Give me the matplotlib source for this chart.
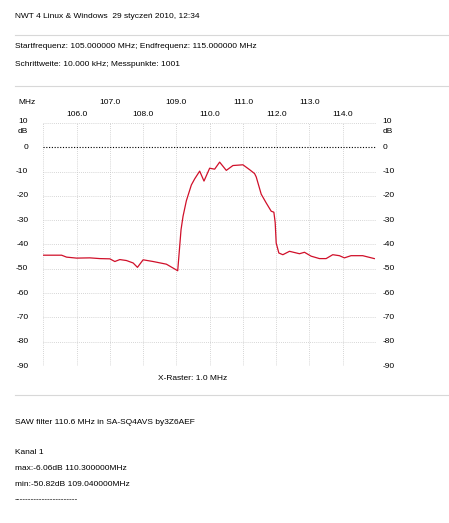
# saw_filter.py
# Wobbel-Messung eines SAW-Filters (NWT 4), nachgebaut mit matplotlib.

import matplotlib.pyplot as plt

plt.rcParams['font.family'] = ['Liberation Sans', 'DejaVu Sans']

W, H = 449, 523

# Messkurve, Frequenz in MHz, Pegel in dB
freq = [105.0, 105.55, 105.7, 106.0, 106.4, 106.7, 107.0, 107.15, 107.3, 107.5,
        107.7, 107.83, 108.0, 108.3, 108.7, 109.04, 109.14, 109.2, 109.3, 109.45,
        109.55, 109.7, 109.83, 110.0, 110.15, 110.3, 110.5, 110.7, 111.0, 111.2,
        111.35, 111.4, 111.55, 111.7, 111.85, 111.93, 111.97, 112.0, 112.08, 112.2,
        112.4, 112.7, 112.85, 113.05, 113.3, 113.5, 113.7, 113.9, 114.05, 114.25,
        114.6, 114.95]
pegel = [-44.4, -44.4, -45.2, -45.6, -45.5, -45.8, -45.9, -47.0, -46.2, -46.6,
         -47.6, -49.4, -46.3, -47.0, -48.1, -50.8, -33.9, -28.4, -22.0, -15.5,
         -13.0, -9.8, -13.9, -8.6, -9.0, -6.1, -9.5, -7.5, -7.2, -9.2,
         -10.8, -12.2, -19.3, -22.9, -26.3, -26.7, -31.0, -39.4, -43.5, -44.2,
         -42.8, -43.8, -43.2, -44.8, -45.8, -45.8, -44.2, -44.6, -45.5, -44.6,
         -44.6, -45.8]

x_ticks = [105, 106, 107, 108, 109, 110, 111, 112, 113, 114, 115]
y_ticks = [0, -10, -20, -30, -40, -50, -60, -70, -80, -90]

kopf = 'NWT 4 Linux & Windows  29 styczeń 2010, 12:34'
zeile1 = 'Startfrequenz: 105.000000 MHz; Endfrequenz: 115.000000 MHz'
zeile2 = 'Schrittweite: 10.000 kHz; Messpunkte: 1001'
fuss = ['SAW filter 110.6 MHz in SA-SQ4AVS by3Z6AEF', '', 'Kanal 1',
        'max:-6.06dB 110.300000MHz', 'min:-50.82dB 109.040000MHz',
        '-----------------------']

fs = 6

fig = plt.figure(figsize=(W / 100, H / 100), dpi=100)


def fx(px):
    return px / W


def fy(py):
    return 1 - py / H


# Kopfbereich
fig.text(fx(15), fy(17), kopf, fontsize=fs, va='center')
fig.add_artist(plt.Line2D([fx(15), 1], [fy(35), fy(35)], color='#d8d8d8', lw=0.8))
fig.text(fx(15), fy(47), zeile1, fontsize=fs, va='center')
fig.text(fx(15), fy(64), zeile2, fontsize=fs, va='center')
fig.add_artist(plt.Line2D([fx(15), 1], [fy(86), fy(86)], color='#d8d8d8', lw=0.8))

# Diagramm
ax = fig.add_axes([fx(43.3), fy(366), fx(376) - fx(43.3), fy(123) - fy(366)])
ax.set_xlim(105, 115)
ax.set_ylim(-90, 10)
for s in ax.spines.values():
    s.set_visible(False)
ax.set_xticks([])
ax.set_yticks([])

for f in x_ticks:
    ax.axvline(f, color='#c8c8c8', lw=0.6, ls=(0, (1, 1.5)))
for d in [10] + y_ticks[1:]:
    ax.axhline(d, color='#c8c8c8', lw=0.6, ls=(0, (1, 1.5)))
ax.axhline(0, color='black', lw=0.8, ls=(0, (1, 1.5)))

ax.plot(freq, pegel, color='#d0102a', lw=0.9)

# Achsbeschriftung oben (versetzt)
tr = ax.get_xaxis_transform()
for f in x_ticks[1:-1]:
    yy = 1.085 if f % 2 == 1 else 1.035
    ax.text(f, yy, f'{f:.1f}', transform=tr, fontsize=fs, ha='center', va='center')
fig.text(fx(18), fy(103), 'MHz', fontsize=fs, va='center')

# dB-Beschriftung links und rechts
for d in y_ticks:
    ax.text(104.55, d, str(d), fontsize=fs, ha='right', va='center')
    ax.text(115.2, d, str(d), fontsize=fs, ha='left', va='center')
for xt, ha in [(104.55, 'right'), (115.2, 'left')]:
    ax.text(xt, 10.5, '10', fontsize=fs, ha=ha, va='center')
    ax.text(xt, 6.5, 'dB', fontsize=fs, ha=ha, va='center')

fig.text(fx(193), fy(379), 'X-Raster: 1.0 MHz', fontsize=fs, ha='center', va='center')
fig.add_artist(plt.Line2D([fx(15), 1], [fy(395), fy(395)], color='#d8d8d8', lw=0.8))

# Fußbereich
y0 = 422
for i, t in enumerate(fuss):
    py = y0 if i == 0 else 453 + (i - 2) * 15.5
    if t:
        fig.text(fx(15), fy(py), t, fontsize=fs, va='center')

fig.savefig('out.png', dpi=100)
